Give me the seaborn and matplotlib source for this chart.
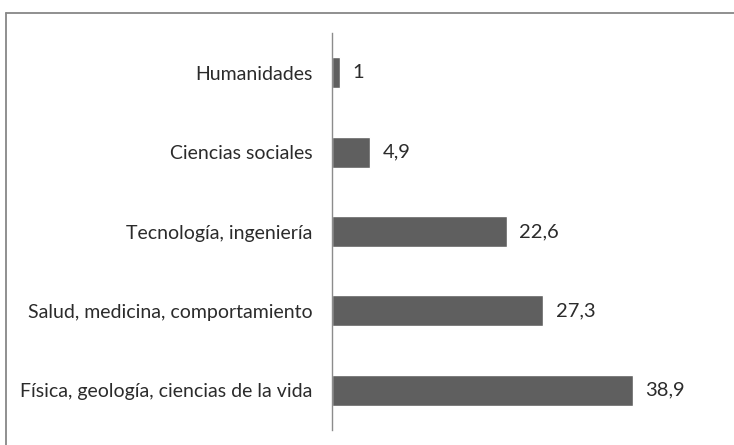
import matplotlib
matplotlib.use("Agg")
import matplotlib.pyplot as plt
import seaborn as sns
import pandas as pd
from matplotlib.lines import Line2D

# data
categorias = [
    "Humanidades",
    "Ciencias sociales",
    "Tecnología, ingeniería",
    "Salud, medicina, comportamiento",
    "Física, geología, ciencias de la vida",
]
valores = [1, 4.9, 22.6, 27.3, 38.9]
etiquetas = ["1", "4,9", "22,6", "27,3", "38,9"]

df = pd.DataFrame({"categoria": categorias, "valor": valores})

sns.set_style("white")
plt.rcParams["font.family"] = ["Lato", "DejaVu Sans"]

fig = plt.figure(figsize=(7.34, 4.45), dpi=100)
ax = fig.add_axes([332 / 734, 15 / 445, 348 / 734, 397 / 445])

sns.barplot(data=df, x="valor", y="categoria", color="#5f5f5f",
            width=0.39, saturation=1, ax=ax, orient="h")

for i, (v, t) in enumerate(zip(valores, etiquetas)):
    ax.annotate(t, (v, i), xytext=(9, 0), textcoords="offset points",
                va="center", ha="left", fontsize=14.5, color="#2b2b2b")

ax.set_xlim(0, 45)
ax.set_xlabel("")
ax.set_ylabel("")
ax.set_xticks([])
ax.tick_params(axis="y", length=0, pad=14, labelsize=14, labelcolor="#2b2b2b")
for s in ["top", "right", "bottom"]:
    ax.spines[s].set_visible(False)
ax.spines["left"].set_color("#8c8c8c")
ax.spines["left"].set_linewidth(1)

# outer chart frame (only left and top edges visible in the crop)
fx = 5.5 / 734
fy = 1 - 12.5 / 445
fig.add_artist(Line2D([fx, fx], [0, fy], transform=fig.transFigure, color="#878787", lw=1.3))
fig.add_artist(Line2D([fx, 1], [fy, fy], transform=fig.transFigure, color="#878787", lw=1.3))

fig.savefig("out.png", dpi=100)
